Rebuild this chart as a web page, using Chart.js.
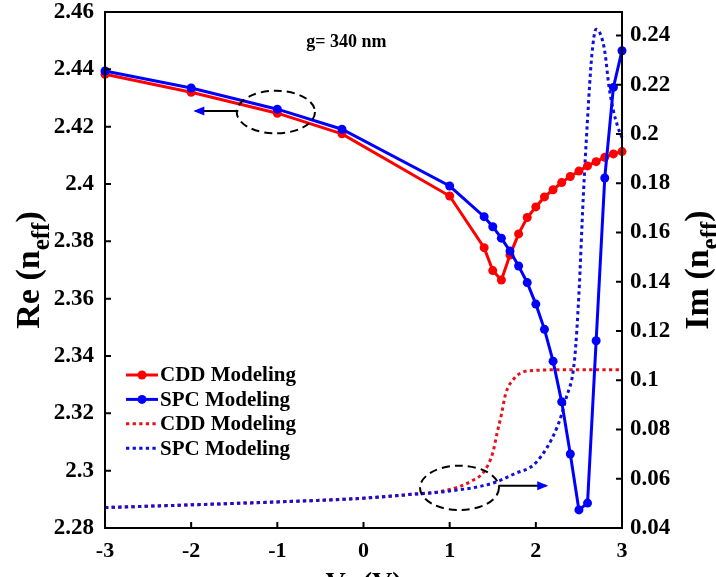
<!DOCTYPE html>
<html><head><meta charset="utf-8">
<script src="https://cdn.jsdelivr.net/npm/chart.js@4.4.1/dist/chart.umd.min.js"></script>
<style>html,body{margin:0;padding:0;background:#fff;overflow:hidden}</style>
</head><body>
<canvas id="c" width="716" height="577"></canvas>
<script>
// ---- data ----
const xTicks = [-3, -2, -1, 0, 1, 2, 3];
const leftTicks = [2.28, 2.30, 2.32, 2.34, 2.36, 2.38, 2.40, 2.42, 2.44, 2.46];
const rightTicks = [0.04, 0.06, 0.08, 0.10, 0.12, 0.14, 0.16, 0.18, 0.20, 0.22, 0.24];

const reX = [-3, -2, -1, -0.25, 1, 1.4, 1.5, 1.6, 1.7, 1.8, 1.9, 2.0, 2.1, 2.2, 2.3, 2.4, 2.5, 2.6, 2.7, 2.8, 2.9, 3.0];
const cddRe = [2.4383, 2.4320, 2.4247, 2.4175, 2.3958, 2.3778, 2.3698, 2.3665, 2.3752, 2.3826, 2.3883, 2.3920, 2.3955, 2.3980, 2.4005, 2.4026, 2.4045, 2.4063, 2.4078, 2.4093, 2.4105, 2.4113];
const spcRe = [2.4394, 2.4335, 2.4261, 2.4191, 2.3993, 2.3886, 2.3851, 2.3811, 2.3766, 2.3714, 2.3656, 2.3581, 2.3493, 2.3382, 2.3240, 2.3058, 2.2863, 2.2887, 2.3453, 2.4021, 2.4337, 2.4465];

const cddImX = [-3, -2, -1, 0, 0.5, 1, 1.25, 1.4, 1.5, 1.55, 1.6, 1.65, 1.75, 1.85, 2.0, 2.5, 3.0];
const cddIm = [0.0483, 0.0494, 0.0506, 0.0521, 0.0535, 0.0556, 0.0590, 0.0630, 0.0705, 0.0785, 0.0860, 0.0945, 0.1008, 0.1033, 0.1040, 0.1043, 0.1043];
const spcImX = [-3, -2, -1, 0, 0.5, 1, 1.5, 1.75, 2.0, 2.25, 2.35, 2.45, 2.5, 2.55, 2.6, 2.65, 2.7, 2.75, 2.8, 2.85, 2.9, 2.95, 3.0];
const spcIm = [0.0483, 0.0494, 0.0506, 0.0521, 0.0535, 0.0550, 0.0582, 0.0620, 0.0665, 0.0812, 0.0925, 0.1085, 0.1350, 0.1740, 0.2060, 0.2320, 0.2425, 0.2405, 0.2335, 0.2190, 0.2095, 0.2030, 0.1985];

const seriesLabels = ['CDD Modeling', 'SPC Modeling', 'CDD Modeling', 'SPC Modeling'];
const xTitle = ['V', 'a', ' (V)'];
const leftTitle = ['Re (n', 'eff', ')'];
const rightTitle = ['Im (n', 'eff', ')'];
const noteText = 'g= 340 nm';

// ---- styles ----
const RED = '#ff0000', BLUE = '#0000ff', RED_D = '#e3141c', BLUE_D = '#1010dc';
const FONT = '"Liberation Serif", "Times New Roman", serif';

const pts = (xs, ys) => xs.map((x, i) => ({x, y: ys[i]}));
const fmt = v => String(Number(v.toFixed(2)));

function drawRich(ctx, parts, cx, cy, size, subSize, rot) {
  ctx.save();
  ctx.translate(cx, cy);
  if (rot) ctx.rotate(rot);
  const fonts = ['bold ' + size + 'px ' + FONT, 'bold ' + subSize + 'px ' + FONT, 'bold ' + size + 'px ' + FONT];
  let w = 0; const ws = [];
  parts.forEach((p, i) => { ctx.font = fonts[i]; const m = ctx.measureText(p).width; ws.push(m); w += m; });
  let x = -w / 2;
  ctx.fillStyle = '#000'; ctx.textBaseline = 'alphabetic'; ctx.textAlign = 'left';
  const base = size * 0.33;
  parts.forEach((p, i) => {
    ctx.font = fonts[i];
    ctx.fillText(p, x, base + (i === 1 ? size * 0.3 : 0));
    x += ws[i];
  });
  ctx.restore();
}

const decor = {
  id: 'decor',
  afterDatasetsDraw(chart) {
    const {ctx, chartArea: a, scales} = chart;
    const sx = scales.x, sy = scales.y, sy2 = scales.y2;
    ctx.save();
    // box
    ctx.strokeStyle = '#000'; ctx.lineWidth = 2; ctx.setLineDash([]);
    ctx.strokeRect(a.left, a.top, a.right - a.left, a.bottom - a.top);
    // inward ticks
    const TL = 6;
    ctx.beginPath();
    xTicks.forEach(v => { const p = sx.getPixelForValue(v); ctx.moveTo(p, a.bottom); ctx.lineTo(p, a.bottom - TL); });
    leftTicks.forEach(v => { const p = sy.getPixelForValue(v); ctx.moveTo(a.left, p); ctx.lineTo(a.left + TL, p); });
    rightTicks.forEach(v => { const p = sy2.getPixelForValue(v); ctx.moveTo(a.right, p); ctx.lineTo(a.right - TL, p); });
    ctx.stroke();

    // ellipses + arrows (data coordinates)
    const ell = [
      {x: -1.017, y: 2.4251, rx: 0.454, ry: 0.00743, s: sy},
      {x: 1.114, y: 0.0563, rx: 0.458, ry: 0.0090, s: sy2}
    ];
    ctx.lineWidth = 2; ctx.setLineDash([8, 5]);
    ell.forEach(e => {
      const cx = sx.getPixelForValue(e.x), cy = e.s.getPixelForValue(e.y);
      const rx = sx.getPixelForValue(e.x + e.rx) - cx, ry = cy - e.s.getPixelForValue(e.y + e.ry);
      ctx.beginPath(); ctx.ellipse(cx, cy, rx, ry, 0, 0, Math.PI * 2); ctx.stroke();
    });
    ctx.setLineDash([]);
    const arr = [
      {x1: -1.453, x2: -1.975, y: 2.4255, s: sy},
      {x1: 1.564, x2: 2.144, y: 0.0572, s: sy2}
    ];
    arr.forEach(r => {
      const x1 = sx.getPixelForValue(r.x1), x2 = sx.getPixelForValue(r.x2), y = r.s.getPixelForValue(r.y);
      const d = Math.sign(x2 - x1);
      ctx.beginPath(); ctx.moveTo(x1, y); ctx.lineTo(x2 - d * 2, y); ctx.stroke();
      ctx.beginPath(); ctx.moveTo(x2, y); ctx.lineTo(x2 - d * 11, y - 4.5); ctx.lineTo(x2 - d * 11, y + 4.5); ctx.closePath(); ctx.fill();
    });

    // note text
    ctx.fillStyle = '#000'; ctx.font = 'bold 18px ' + FONT; ctx.textAlign = 'center'; ctx.textBaseline = 'middle';
    ctx.fillText(noteText, sx.getPixelForValue(-0.2), sy.getPixelForValue(2.4495));

    // legend
    const ds = chart.data.datasets;
    const lx = a.left + 21, ly0 = a.top + 363, dy = 24.4;
    ctx.font = 'bold 21px ' + FONT; ctx.textAlign = 'left'; ctx.textBaseline = 'middle';
    ds.forEach((d, i) => {
      const y = ly0 + i * dy;
      ctx.strokeStyle = d.borderColor; ctx.lineWidth = d.borderWidth;
      ctx.setLineDash(d.borderDash || []);
      ctx.beginPath(); ctx.moveTo(lx, y); ctx.lineTo(lx + 32, y); ctx.stroke();
      ctx.setLineDash([]);
      if (d.pointRadius > 0) {
        ctx.fillStyle = d.borderColor; ctx.beginPath(); ctx.arc(lx + 16, y, d.pointRadius, 0, Math.PI * 2); ctx.fill();
      }
      ctx.fillStyle = '#000';
      ctx.fillText(seriesLabels[i], lx + 34, y + 1);
    });

    // axis titles
    drawRich(ctx, leftTitle, 28, (a.top + a.bottom) / 2, 34, 25, -Math.PI / 2);
    drawRich(ctx, rightTitle, 697, (a.top + a.bottom) / 2, 34, 25, -Math.PI / 2);
    ctx.restore();
    ctx.save();
    // x title (mostly below the visible area)
    const fs = 28;
    ctx.font = 'bold ' + fs + 'px ' + FONT;
    const w0 = ctx.measureText(xTitle[0]).width, w2 = ctx.measureText(xTitle[2]).width;
    ctx.font = 'bold 20px ' + FONT;
    const w1 = ctx.measureText(xTitle[1]).width;
    let x = (a.left + a.right) / 2 - (w0 + w1 + w2) / 2;
    const by = 591;
    ctx.fillStyle = '#000'; ctx.textBaseline = 'alphabetic'; ctx.textAlign = 'left';
    ctx.font = 'bold ' + fs + 'px ' + FONT; ctx.fillText(xTitle[0], x, by); x += w0;
    ctx.font = 'bold 20px ' + FONT; ctx.fillText(xTitle[1], x, by + 7); x += w1;
    ctx.font = 'bold ' + fs + 'px ' + FONT; ctx.fillText(xTitle[2], x, by);
    ctx.restore();
  }
};

const noPadV = w => s => { s.width = w; s.paddingTop = 0; s.paddingBottom = 0; };

new Chart(document.getElementById('c'), {
  type: 'line',
  data: {
    datasets: [
      {label: seriesLabels[0], data: pts(reX, cddRe), yAxisID: 'y', borderColor: RED, backgroundColor: RED, borderWidth: 3, pointRadius: 4.5, pointBackgroundColor: RED, pointBorderWidth: 0, tension: 0, order: 1, clip: false},
      {label: seriesLabels[1], data: pts(reX, spcRe), yAxisID: 'y', borderColor: BLUE, backgroundColor: BLUE, borderWidth: 3, pointRadius: 4.5, pointBackgroundColor: BLUE, pointBorderWidth: 0, tension: 0, order: 0, clip: false},
      {label: seriesLabels[2], data: pts(cddImX, cddIm), yAxisID: 'y2', borderColor: RED_D, borderWidth: 3, borderDash: [3.3, 3.3], pointRadius: 0, cubicInterpolationMode: 'monotone', order: 3, clip: false},
      {label: seriesLabels[3], data: pts(spcImX, spcIm), yAxisID: 'y2', borderColor: BLUE_D, borderWidth: 3, borderDash: [3.3, 3.3], pointRadius: 0, cubicInterpolationMode: 'monotone', order: 2, clip: false}
    ]
  },
  options: {
    responsive: false, animation: false, devicePixelRatio: 1,
    layout: {padding: {top: 12, left: 0, right: 0, bottom: 0}},
    plugins: {legend: {display: false}, tooltip: {enabled: false}},
    scales: {
      x: {
        type: 'linear', min: -3, max: 3,
        afterBuildTicks: s => { s.ticks = xTicks.map(v => ({value: v})); },
        afterFit: s => { s.height = 49; s.paddingLeft = 0; s.paddingRight = 0; },
        grid: {display: false, drawTicks: false}, border: {display: false},
        ticks: {color: '#000', padding: 10, maxRotation: 0, font: {family: FONT, size: 22, weight: 'bold'}, callback: v => String(v)}
      },
      y: {
        type: 'linear', position: 'left', min: 2.28, max: 2.46,
        afterBuildTicks: s => { s.ticks = leftTicks.map(v => ({value: v})); },
        afterFit: noPadV(105),
        grid: {display: false, drawTicks: false}, border: {display: false},
        ticks: {color: '#000', padding: 11, font: {family: FONT, size: 23, weight: 'bold'}, callback: v => fmt(v)}
      },
      y2: {
        type: 'linear', position: 'right', min: 0.04, max: 0.2495,
        afterBuildTicks: s => { s.ticks = rightTicks.map(v => ({value: v})); },
        afterFit: noPadV(94),
        grid: {display: false, drawTicks: false}, border: {display: false},
        ticks: {color: '#000', padding: 8, font: {family: FONT, size: 23, weight: 'bold'}, callback: v => fmt(v)}
      }
    }
  },
  plugins: [decor]
});
</script>
</body></html>
